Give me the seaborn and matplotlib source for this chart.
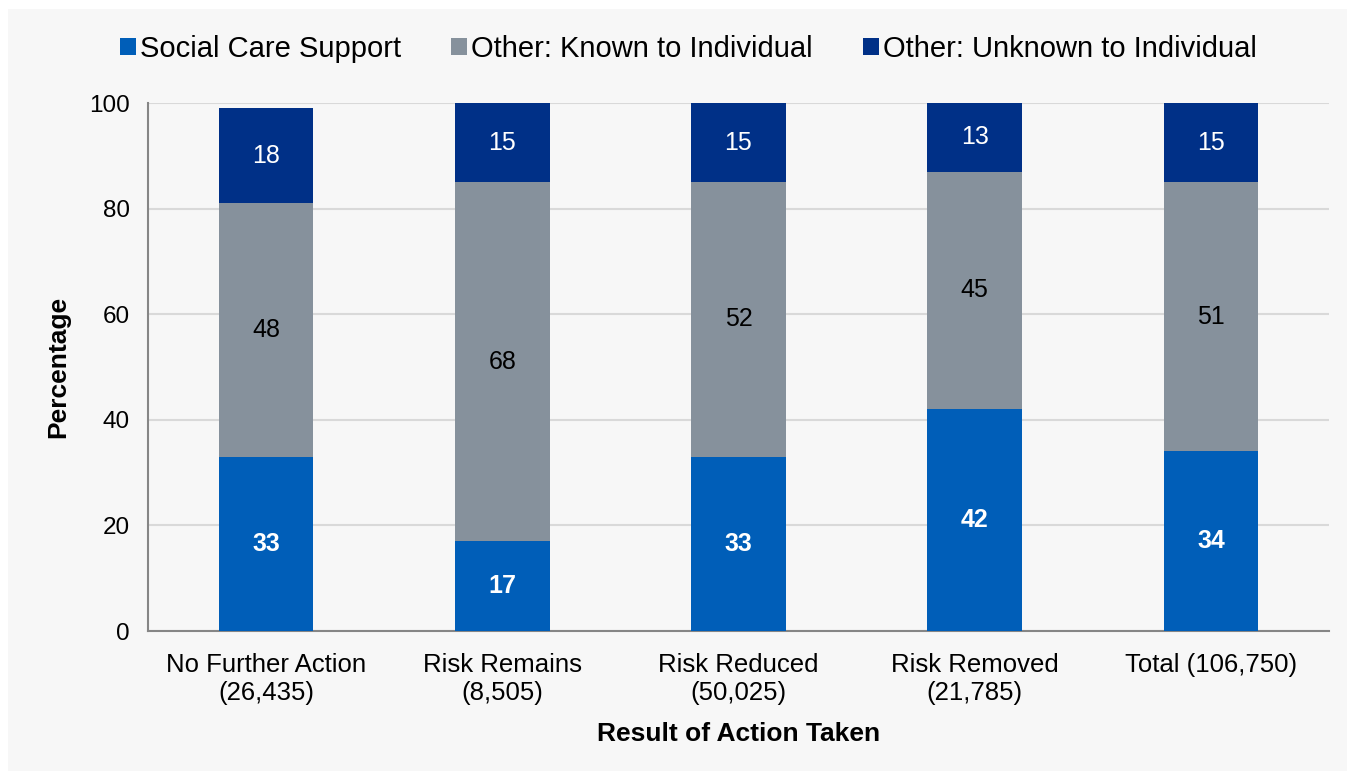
import pandas as pd
import matplotlib.pyplot as plt
import seaborn as sns
from matplotlib.patches import Patch, Rectangle

# data
categories = ['No Further Action\n(26,435)', 'Risk Remains\n(8,505)', 'Risk Reduced\n(50,025)',
              'Risk Removed\n(21,785)', 'Total (106,750)']
social_care = [33, 17, 33, 42, 34]
known = [48, 68, 52, 45, 51]
unknown = [18, 15, 15, 13, 15]

series_names = ['Social Care Support', 'Other: Known to Individual', 'Other: Unknown to Individual']
colors = ['#005EB8', '#86919C', '#003087']

df = pd.DataFrame({'cat': categories, 'social': social_care, 'known': known, 'unknown': unknown})
df['c1'] = df['social']
df['c2'] = df['social'] + df['known']
df['c3'] = df['c2'] + df['unknown']

sns.set_style('white')
plt.rcParams['font.family'] = ['Liberation Sans', 'DejaVu Sans']
plt.rcParams['text.color'] = 'black'
plt.rcParams['axes.labelcolor'] = 'black'
plt.rcParams['xtick.color'] = 'black'
plt.rcParams['ytick.color'] = 'black'

fig = plt.figure(figsize=(13.47, 7.71), dpi=100, facecolor='white')
fig.patches.append(Rectangle((8 / 1347, 0), 1, (771 - 9) / 771, transform=fig.transFigure,
                             facecolor='#f7f7f7', edgecolor='none', zorder=-10))
ax = fig.add_axes([148 / 1347, 1 - 631 / 771, (1329 - 148) / 1347, (631 - 103) / 771])
ax.set_facecolor('#f7f7f7')

# stacked bars: draw cumulative totals from top to bottom
for col, c in zip(['c3', 'c2', 'c1'], colors[::-1]):
    sns.barplot(data=df, x='cat', y=col, color=c, width=0.4, ax=ax, saturation=1,
                linewidth=0, zorder=3)

# segment labels
for i in range(len(categories)):
    ax.text(i, social_care[i] / 2, str(social_care[i]), ha='center', va='center',
            color='white', fontsize=18, fontweight='bold', zorder=5)
    ax.text(i, social_care[i] + known[i] / 2, str(known[i]), ha='center', va='center',
            color='black', fontsize=18, zorder=5)
    ax.text(i, social_care[i] + known[i] + unknown[i] / 2, str(unknown[i]), ha='center', va='center',
            color='white', fontsize=18, zorder=5)

ax.set_ylim(0, 100)
ax.set_xlim(-0.5, len(categories) - 0.5)
ax.set_yticks(range(0, 101, 20))
ax.yaxis.grid(True, color='#d9d9d9', linewidth=1.5, zorder=0)
ax.set_axisbelow(True)
for s in ['top', 'right']:
    ax.spines[s].set_visible(False)
for s in ['left', 'bottom']:
    ax.spines[s].set_color('#868686')
    ax.spines[s].set_linewidth(1.5)

ax.tick_params(axis='y', length=7, width=1.5, color='#868686', labelsize=17.5, pad=6)
ax.tick_params(axis='x', which='major', length=0, labelsize=18.5, pad=16)
ax.set_xticks([x - 0.5 for x in range(len(categories) + 1)], minor=True)
ax.tick_params(axis='x', which='minor', length=7, width=1.5, color='#868686')

ax.set_xlabel('Result of Action Taken', fontsize=19, fontweight='bold', labelpad=12)
ax.set_ylabel('Percentage', fontsize=19, fontweight='bold', labelpad=14)

handles = [Patch(facecolor=c, edgecolor='none') for c in colors]
fig.legend(handles, series_names, loc='center', bbox_to_anchor=(0.511, 1 - 49 / 771), ncol=3,
           frameon=False, fontsize=21, handlelength=0.55, handleheight=0.55, handletextpad=0.15,
           columnspacing=1.7)

fig.savefig('out.png', dpi=100, facecolor=fig.get_facecolor())
